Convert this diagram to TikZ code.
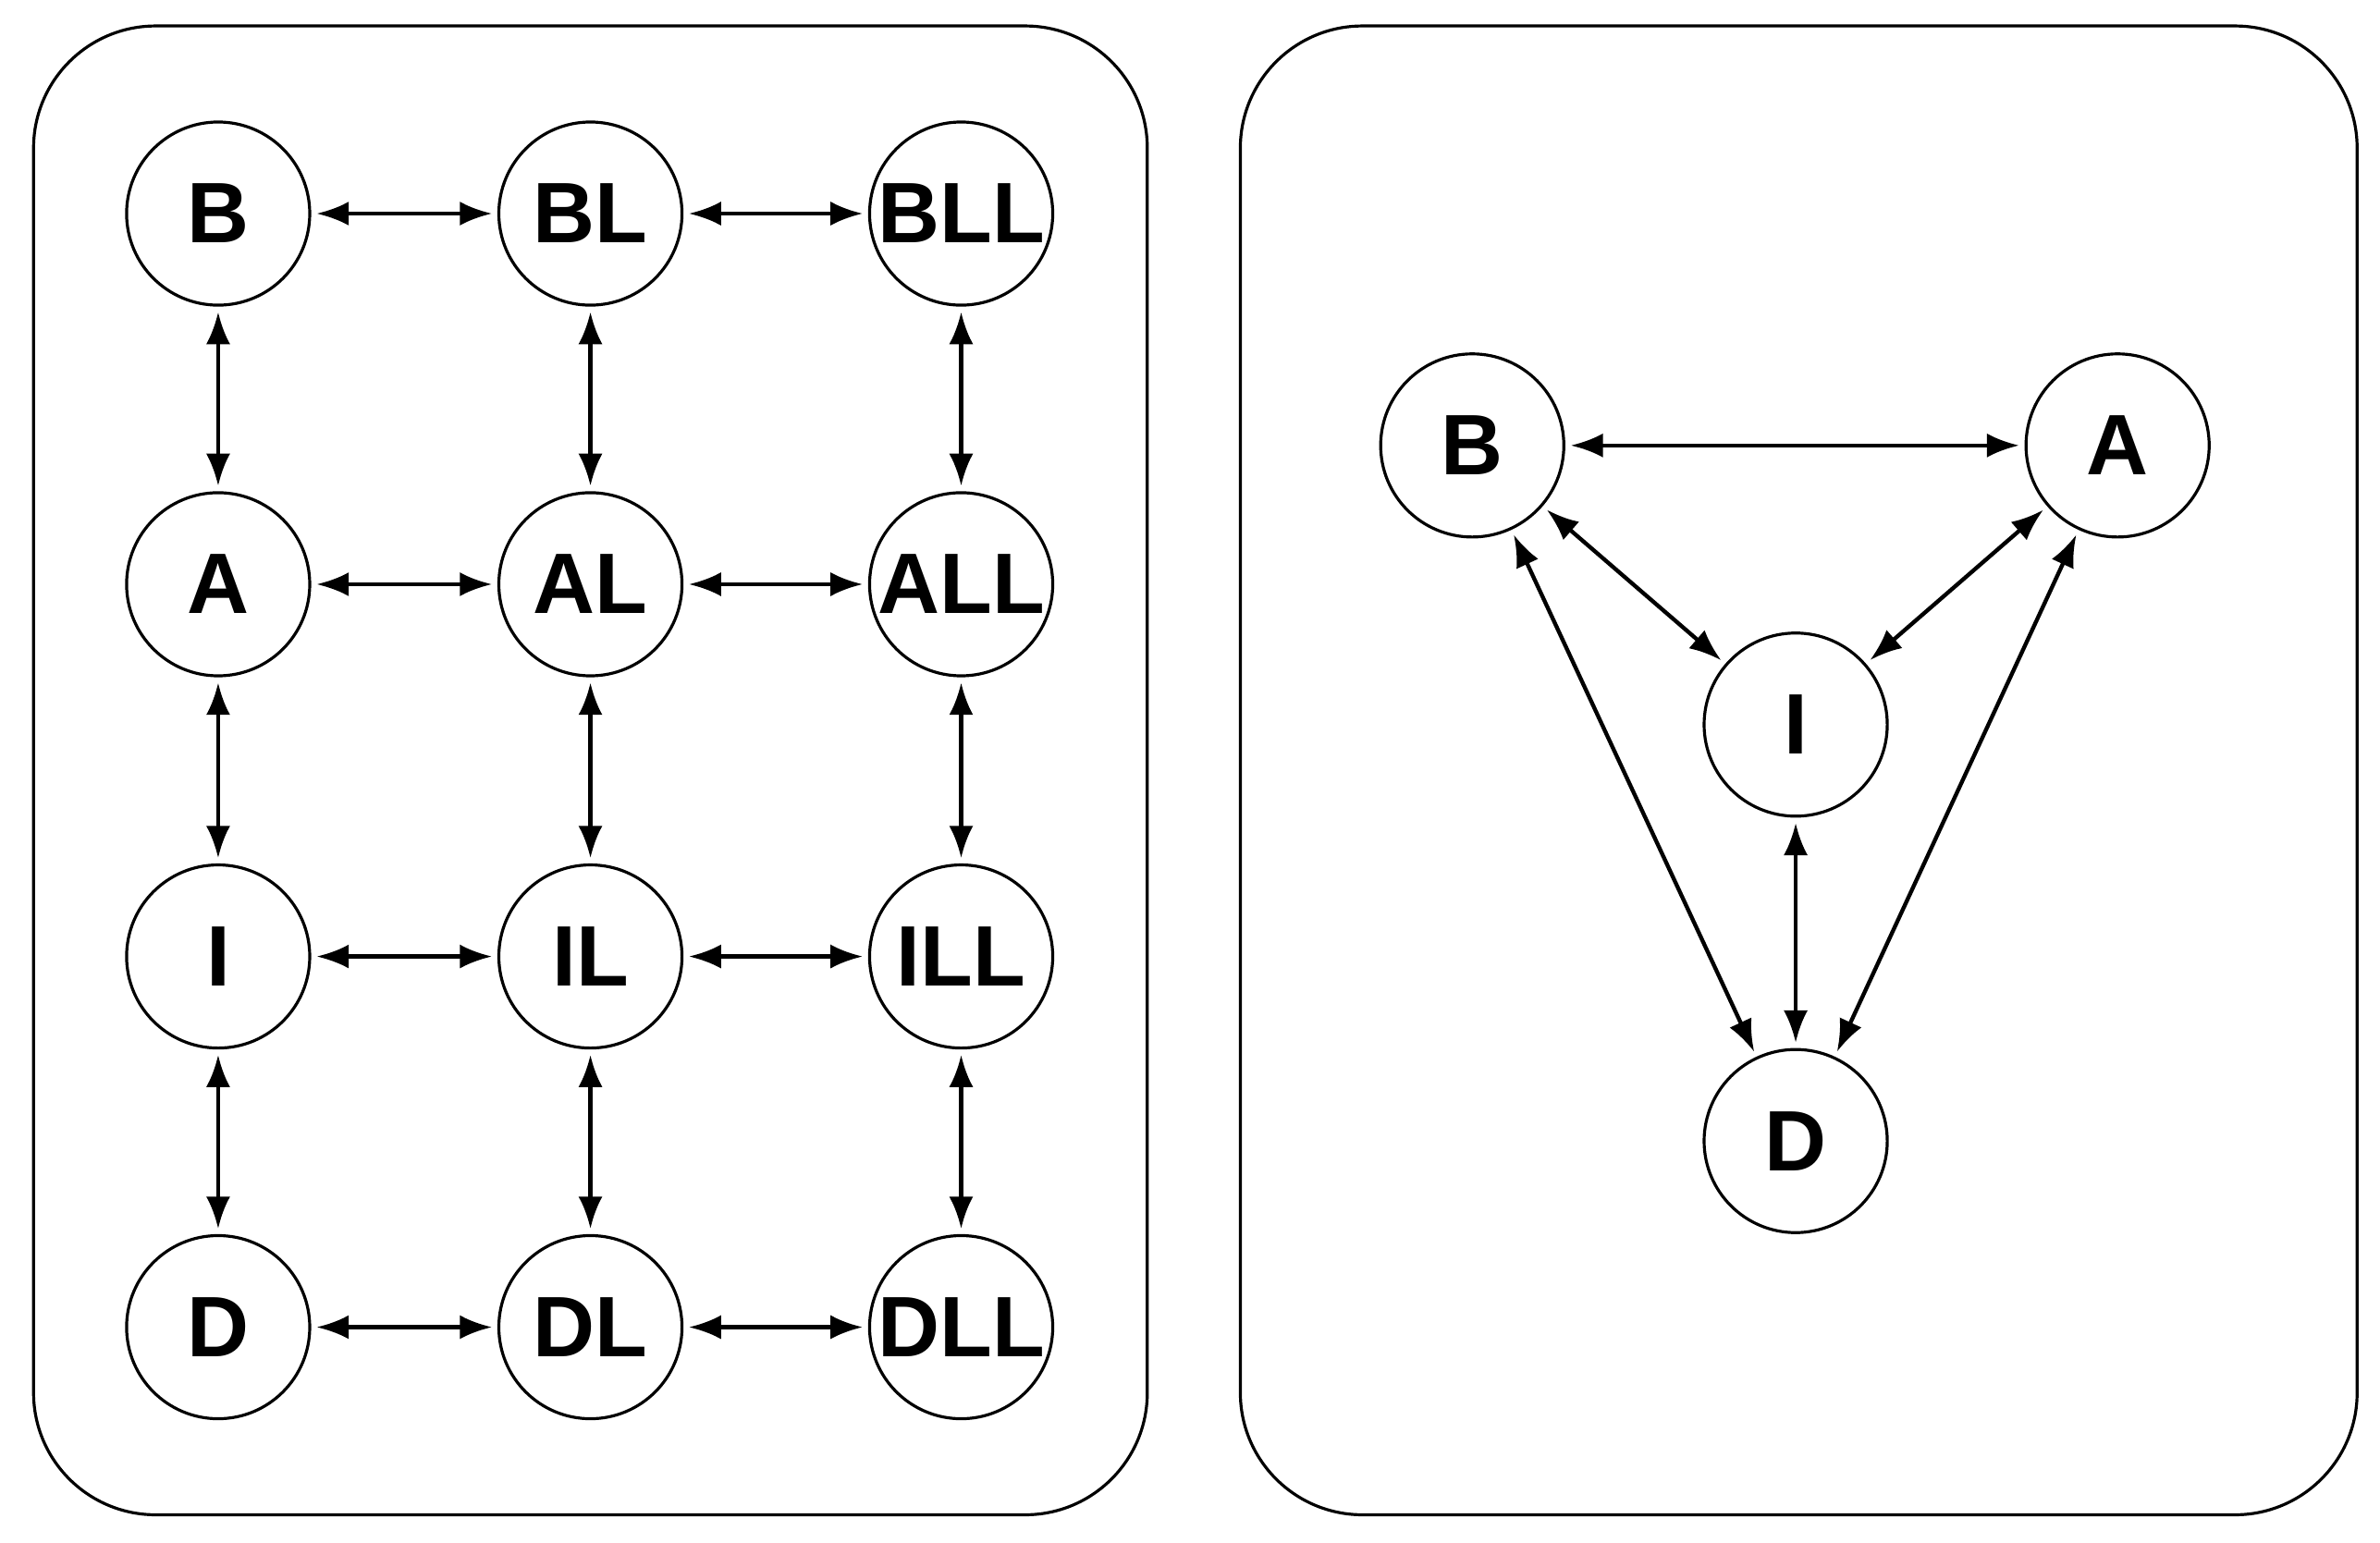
\documentclass[tikz,border=0pt]{standalone}
\usepackage{fontspec}
\setmainfont{Liberation Sans}
\usetikzlibrary{arrows.meta}
\begin{document}
\begin{tikzpicture}[x=0.01cm,y=-0.01cm,
  st/.style={circle,draw,line width=0.55pt,minimum size=120*0.2845pt,inner sep=0pt,font=\fontsize{16}{16}\selectfont\bfseries},
  ed/.style={line width=0.75pt,{Latex[length=6pt,width=4.5pt]}-{Latex[length=6pt,width=4.5pt]},shorten <=1pt,shorten >=1pt},
  panel/.style={draw,line width=0.55pt,rounded corners=80*0.2845pt}]
\useasboundingbox (0,0) rectangle (1560,1011);
\draw[panel] (22,17) rectangle (752,993);
\draw[panel] (813,17) rectangle (1545,993);
\foreach \r/\y in {B/140,A/383,I/627,D/870}{
  \node[st] (\r0) at (143,\y) {\r};
  \node[st] (\r1) at (387,\y) {\r L};
  \node[st] (\r2) at (630,\y) {\r LL};
}
\foreach \r in {B,A,I,D}{
  \draw[ed] (\r0) -- (\r1); \draw[ed] (\r1) -- (\r2);}
\foreach \c in {0,1,2}{
  \draw[ed] (B\c) -- (A\c); \draw[ed] (A\c) -- (I\c); \draw[ed] (I\c) -- (D\c);}
\node[st] (rB) at (965,292) {B};
\node[st] (rA) at (1388,292) {A};
\node[st] (rI) at (1177,475) {I};
\node[st] (rD) at (1177,748) {D};
\draw[ed] (rB) -- (rA);
\draw[ed] (rB) -- (rI);
\draw[ed] (rA) -- (rI);
\draw[ed] (rB) -- (rD);
\draw[ed] (rA) -- (rD);
\draw[ed] (rI) -- (rD);
\end{tikzpicture}
\end{document}
